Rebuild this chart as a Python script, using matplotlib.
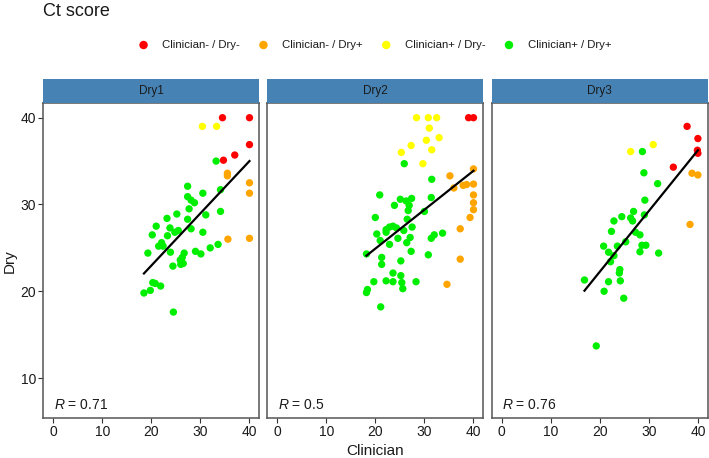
import matplotlib
matplotlib.use('Agg')
from matplotlib import pyplot as plt
import numpy as np

plt.rcParams['font.family'] = ['Liberation Sans', 'DejaVu Sans']
plt.rcParams['mathtext.fontset'] = 'custom'
plt.rcParams['mathtext.rm'] = 'Liberation Sans'
plt.rcParams['mathtext.it'] = 'Liberation Sans:italic'

panels = ['Dry1', 'Dry2', 'Dry3']
r_values = ['0.71', '0.5', '0.76']
groups = ['Clinician- / Dry-', 'Clinician- / Dry+', 'Clinician+ / Dry-', 'Clinician+ / Dry+']
group_colors = ['#FF0000', '#FFA500', '#FFFF00', '#00EE00']

# Dry1 (clinician Ct, dry Ct) per group
dry1_red_x = [34.5, 40.0, 40.0, 37.0, 34.7]
dry1_red_y = [40.0, 40.0, 36.9, 35.7, 35.1]
dry1_orange_x = [35.5, 35.5, 40.0, 40.0, 35.6, 40.0]
dry1_orange_y = [33.6, 33.3, 32.5, 31.3, 26.0, 26.1]
dry1_yellow_x = [30.4, 33.3]
dry1_yellow_y = [39.0, 39.0]
dry1_green_x = [33.2, 27.4, 30.5, 27.4, 28.1, 28.8, 34.1, 27.7, 25.2, 31.1, 23.2, 34.1, 27.4, 21.0,
                23.8, 25.5, 28.1, 24.8, 20.2, 23.3, 30.5, 22.1, 21.5, 22.4, 23.9, 19.3, 29.0, 30.1,
                32.0, 33.6, 26.7, 26.3, 25.9, 26.5, 24.4, 26.0, 20.3, 20.8, 21.9, 19.8, 18.5, 24.5]
dry1_green_y = [35.0, 32.1, 31.3, 30.9, 30.5, 30.2, 31.7, 29.5, 28.9, 28.8, 28.4, 29.2, 28.3, 27.5,
                27.3, 27.0, 27.2, 26.8, 26.5, 26.4, 26.8, 25.6, 25.2, 25.2, 24.5, 24.4, 24.6, 24.3,
                25.0, 25.4, 24.4, 23.9, 23.6, 23.2, 22.9, 23.1, 21.0, 20.9, 20.6, 20.1, 19.8, 17.6]

# Dry2
dry2_red_x = [39.0, 40.0]
dry2_red_y = [40.0, 40.0]
dry2_orange_x = [40.0, 35.2, 36.0, 37.9, 38.6, 40.0, 40.0, 40.0, 40.0, 39.3, 37.3, 37.3, 34.6]
dry2_orange_y = [34.1, 33.3, 31.9, 32.2, 32.3, 32.35, 31.1, 30.2, 29.4, 28.5, 27.2, 23.7, 20.8]
dry2_yellow_x = [28.4, 30.8, 32.5, 31.0, 33.0, 30.4, 27.3, 31.5, 25.3, 29.7]
dry2_yellow_y = [40.0, 40.0, 40.0, 38.8, 37.7, 37.4, 36.8, 36.3, 36.0, 34.7]
dry2_green_x = [25.9, 31.5, 20.9, 25.1, 27.4, 26.3, 23.9, 26.9, 26.7, 31.4, 30.0, 20.0, 26.5, 23.6,
                22.9, 22.2, 24.3, 25.8, 27.5, 22.2, 20.3, 24.6, 27.1, 33.7, 32.0, 31.4, 21.0, 22.9,
                26.4, 27.3, 18.2, 30.8, 21.3, 21.3, 25.2, 23.6, 25.2, 19.7, 22.2, 23.6, 25.4, 28.3,
                25.6, 18.4, 18.2, 21.1]
dry2_green_y = [34.7, 32.9, 31.1, 30.6, 30.7, 30.4, 29.9, 29.9, 29.3, 30.8, 29.2, 28.5, 28.3, 27.5,
                27.4, 27.1, 27.3, 27.0, 27.4, 26.8, 26.6, 26.1, 26.2, 26.7, 26.5, 26.1, 25.85, 25.4,
                25.6, 24.6, 24.3, 24.2, 23.9, 23.1, 23.5, 22.1, 21.8, 21.1, 21.2, 21.1, 21.0, 21.1,
                20.3, 20.2, 19.85, 18.2]

# Dry3
dry3_red_x = [37.8, 40.0, 39.9, 40.0, 35.0]
dry3_red_y = [39.0, 37.6, 36.25, 35.9, 34.3]
dry3_orange_x = [38.8, 40.0, 38.4]
dry3_orange_y = [33.6, 33.4, 27.7]
dry3_yellow_x = [26.3, 30.9]
dry3_yellow_y = [36.1, 36.9]
dry3_green_x = [28.7, 29.0, 31.8, 29.2, 26.9, 29.1, 24.5, 22.9, 26.3, 26.7, 22.4, 27.3, 28.2, 25.3,
                20.8, 23.6, 21.8, 22.9, 28.6, 29.4, 28.2, 32.0, 22.2, 24.1, 24.0, 16.9, 21.8, 24.2,
                20.9, 24.9, 19.3]
dry3_green_y = [36.1, 33.65, 32.4, 30.5, 29.2, 28.8, 28.6, 28.1, 28.45, 28.1, 26.9, 26.8, 26.5, 25.7,
                25.2, 25.2, 24.5, 24.1, 25.3, 25.3, 24.55, 24.4, 23.4, 22.5, 22.1, 21.3, 21.1, 21.2,
                20.0, 19.2, 13.7]

data = [
    [(dry1_red_x, dry1_red_y), (dry1_orange_x, dry1_orange_y),
     (dry1_yellow_x, dry1_yellow_y), (dry1_green_x, dry1_green_y)],
    [(dry2_red_x, dry2_red_y), (dry2_orange_x, dry2_orange_y),
     (dry2_yellow_x, dry2_yellow_y), (dry2_green_x, dry2_green_y)],
    [(dry3_red_x, dry3_red_y), (dry3_orange_x, dry3_orange_y),
     (dry3_yellow_x, dry3_yellow_y), (dry3_green_x, dry3_green_y)],
]

W, H = 709, 458
fig = plt.figure(figsize=(W / 100, H / 100), dpi=100)

lefts = [43.3, 267.3, 491.7]
pw = 216.0
top, bottom = 103.3, 418.3
strip_top = 79.0
text_col = '#1A1A1A'
border_col = '#555555'

handles = []
for i, name in enumerate(panels):
    ax = fig.add_axes([lefts[i] / W, 1 - bottom / H, pw / W, (bottom - top) / H])
    all_x, all_y = [], []
    for g, (xs, ys) in enumerate(data[i]):
        sc = ax.scatter(xs, ys, s=28, color=group_colors[g], edgecolors='none', zorder=2,
                        label=groups[g])
        if i == 0:
            handles.append(sc)
        all_x += xs
        all_y += ys
    all_x = np.array(all_x)
    all_y = np.array(all_y)
    k, b = np.polyfit(all_x, all_y, 1)
    xx = np.array([all_x.min(), all_x.max()])
    ax.plot(xx, k * xx + b, color='black', lw=1.6, zorder=3)

    ax.set_xlim(-2, 42)
    ax.set_ylim(5.36, 41.66)
    ax.set_xticks([0, 10, 20, 30, 40])
    ax.set_yticks([10, 20, 30, 40])
    ax.tick_params(axis='both', length=3.5, width=0.8, color='#333333', labelsize=10,
                   labelcolor=text_col, pad=1.5)
    if i > 0:
        ax.tick_params(axis='y', left=False, labelleft=False)
    for sp in ax.spines.values():
        sp.set_color(border_col)
        sp.set_linewidth(1.1)
    ax.text(0.05, 0.03, r'$R$ = ' + r_values[i], transform=ax.transAxes, fontsize=10,
            color=text_col, ha='left', va='baseline')

    sax = fig.add_axes([lefts[i] / W, 1 - top / H, pw / W, (top - strip_top) / H])
    sax.set_facecolor('#4682B4')
    sax.set_xticks([])
    sax.set_yticks([])
    for sp in sax.spines.values():
        sp.set_visible(False)
    sax.text(0.5, 0.5, name, transform=sax.transAxes, ha='center', va='center',
             fontsize=8.5, color=text_col)

fig.text(43 / W, 1 - 3 / H, 'Ct score', fontsize=13, ha='left', va='top', color=text_col)
fig.text((43.3 + 707.7) / 2 / W, 1 - 451 / H, 'Clinician', fontsize=11, ha='center',
         va='center', color=text_col)
fig.text(10 / W, 1 - 260.8 / H, 'Dry', fontsize=11, ha='center', va='center',
         rotation=90, color=text_col)

fig.legend(handles=handles, labels=groups, loc='center', ncol=4,
           bbox_to_anchor=(374 / W, 1 - 45 / H), frameon=False, fontsize=8.2,
           handletextpad=1.05, columnspacing=1.45, handlelength=1.2, markerscale=1.15,
           labelcolor=text_col)

fig.savefig('out.png', dpi=100)
